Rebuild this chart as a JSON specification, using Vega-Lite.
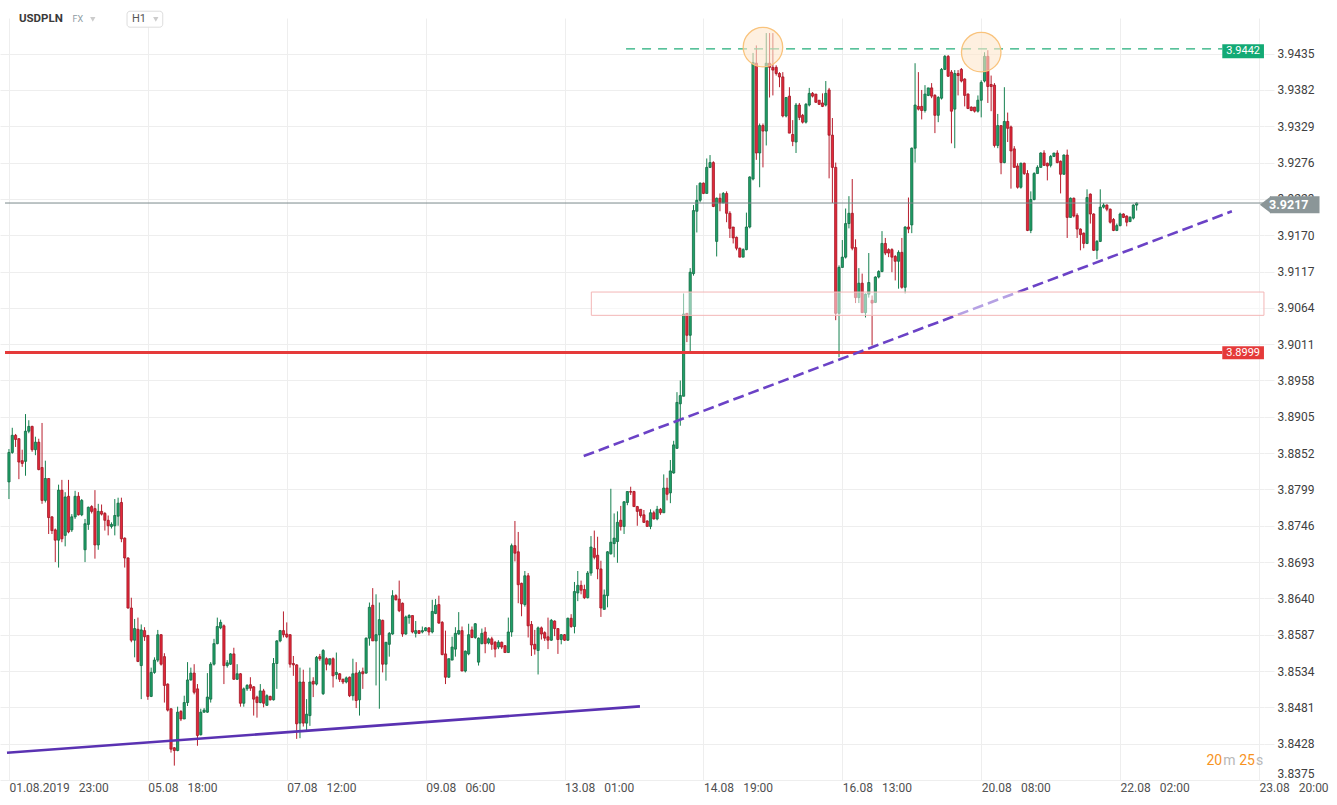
{
"$schema":"https://vega.github.io/schema/vega-lite/v6.json",
"width":1264,"height":762,
"autosize":{"type":"none"},
"padding":{"left":0,"top":18,"right":73,"bottom":25},
"background":"white",
"config":{"view":{"stroke":null},"font":"Roboto","axis":{"labelFont":"Roboto","titleFont":"Roboto"}},
"datasets":{"c":[
{"i":0,"o":3.8810,"h":3.8858,"l":3.8785,"c":3.8853},
{"i":1,"o":3.8853,"h":3.8889,"l":3.8851,"c":3.8878},
{"i":2,"o":3.8878,"h":3.8880,"l":3.8861,"c":3.8872},
{"i":3,"o":3.8873,"h":3.8874,"l":3.8814,"c":3.8839},
{"i":4,"o":3.8841,"h":3.8857,"l":3.8832,"c":3.8837},
{"i":5,"o":3.8840,"h":3.8909,"l":3.8819,"c":3.8884},
{"i":6,"o":3.8884,"h":3.8900,"l":3.8881,"c":3.8891},
{"i":7,"o":3.8891,"h":3.8892,"l":3.8854,"c":3.8857},
{"i":8,"o":3.8857,"h":3.8876,"l":3.8849,"c":3.8868},
{"i":9,"o":3.8868,"h":3.8873,"l":3.8827,"c":3.8828},
{"i":10,"o":3.8831,"h":3.8896,"l":3.8778,"c":3.8783},
{"i":11,"o":3.8783,"h":3.8841,"l":3.8780,"c":3.8815},
{"i":12,"o":3.8815,"h":3.8815,"l":3.8734,"c":3.8758},
{"i":13,"o":3.8759,"h":3.8760,"l":3.8734,"c":3.8739},
{"i":14,"o":3.8740,"h":3.8742,"l":3.8693,"c":3.8725},
{"i":15,"o":3.8725,"h":3.8806,"l":3.8685,"c":3.8798},
{"i":16,"o":3.8798,"h":3.8813,"l":3.8722,"c":3.8727},
{"i":17,"o":3.8732,"h":3.8795,"l":3.8716,"c":3.8788},
{"i":18,"o":3.8789,"h":3.8813,"l":3.8735,"c":3.8737},
{"i":19,"o":3.8740,"h":3.8763,"l":3.8737,"c":3.8759},
{"i":20,"o":3.8759,"h":3.8797,"l":3.8756,"c":3.8789},
{"i":21,"o":3.8789,"h":3.8795,"l":3.8761,"c":3.8762},
{"i":22,"o":3.8762,"h":3.8785,"l":3.8760,"c":3.8783},
{"i":23,"o":3.8711,"h":3.8756,"l":3.8693,"c":3.8749},
{"i":24,"o":3.8748,"h":3.8774,"l":3.8740,"c":3.8773},
{"i":25,"o":3.8774,"h":3.8776,"l":3.8764,"c":3.8767},
{"i":26,"o":3.8771,"h":3.8798,"l":3.8698,"c":3.8718},
{"i":27,"o":3.8718,"h":3.8778,"l":3.8711,"c":3.8767},
{"i":28,"o":3.8767,"h":3.8777,"l":3.8761,"c":3.8763},
{"i":29,"o":3.8764,"h":3.8766,"l":3.8739,"c":3.8754},
{"i":30,"o":3.8754,"h":3.8761,"l":3.8732,"c":3.8746},
{"i":31,"o":3.8745,"h":3.8751,"l":3.8742,"c":3.8748},
{"i":32,"o":3.8746,"h":3.8785,"l":3.8732,"c":3.8761},
{"i":33,"o":3.8760,"h":3.8787,"l":3.8746,"c":3.8779},
{"i":34,"o":3.8780,"h":3.8787,"l":3.8722,"c":3.8727},
{"i":35,"o":3.8728,"h":3.8729,"l":3.8685,"c":3.8699},
{"i":36,"o":3.8699,"h":3.8700,"l":3.8625,"c":3.8626},
{"i":37,"o":3.8626,"h":3.8641,"l":3.8576,"c":3.8579},
{"i":38,"o":3.8579,"h":3.8610,"l":3.8554,"c":3.8596},
{"i":39,"o":3.8595,"h":3.8612,"l":3.8547,"c":3.8548},
{"i":40,"o":3.8542,"h":3.8602,"l":3.8493,"c":3.8594},
{"i":41,"o":3.8593,"h":3.8598,"l":3.8578,"c":3.8584},
{"i":42,"o":3.8586,"h":3.8586,"l":3.8492,"c":3.8497},
{"i":43,"o":3.8497,"h":3.8539,"l":3.8496,"c":3.8532},
{"i":44,"o":3.8532,"h":3.8554,"l":3.8530,"c":3.8550},
{"i":45,"o":3.8550,"h":3.8594,"l":3.8547,"c":3.8587},
{"i":46,"o":3.8587,"h":3.8588,"l":3.8542,"c":3.8544},
{"i":47,"o":3.8555,"h":3.8560,"l":3.8488,"c":3.8513},
{"i":48,"o":3.8515,"h":3.8516,"l":3.8475,"c":3.8477},
{"i":49,"o":3.8479,"h":3.8479,"l":3.8415,"c":3.8420},
{"i":50,"o":3.8422,"h":3.8423,"l":3.8396,"c":3.8418},
{"i":51,"o":3.8418,"h":3.8482,"l":3.8417,"c":3.8474},
{"i":52,"o":3.8475,"h":3.8477,"l":3.8461,"c":3.8464},
{"i":53,"o":3.8464,"h":3.8498,"l":3.8464,"c":3.8488},
{"i":54,"o":3.8488,"h":3.8547,"l":3.8483,"c":3.8521},
{"i":55,"o":3.8521,"h":3.8539,"l":3.8520,"c":3.8531},
{"i":56,"o":3.8531,"h":3.8544,"l":3.8500,"c":3.8503},
{"i":57,"o":3.8508,"h":3.8515,"l":3.8425,"c":3.8440},
{"i":58,"o":3.8441,"h":3.8479,"l":3.8440,"c":3.8474},
{"i":59,"o":3.8474,"h":3.8480,"l":3.8473,"c":3.8477},
{"i":60,"o":3.8474,"h":3.8531,"l":3.8473,"c":3.8496},
{"i":61,"o":3.8493,"h":3.8547,"l":3.8488,"c":3.8544},
{"i":62,"o":3.8544,"h":3.8581,"l":3.8542,"c":3.8574},
{"i":63,"o":3.8574,"h":3.8612,"l":3.8573,"c":3.8599},
{"i":64,"o":3.8597,"h":3.8609,"l":3.8595,"c":3.8605},
{"i":65,"o":3.8600,"h":3.8602,"l":3.8515,"c":3.8542},
{"i":66,"o":3.8542,"h":3.8550,"l":3.8539,"c":3.8546},
{"i":67,"o":3.8544,"h":3.8560,"l":3.8543,"c":3.8559},
{"i":68,"o":3.8559,"h":3.8568,"l":3.8521,"c":3.8522},
{"i":69,"o":3.8522,"h":3.8544,"l":3.8521,"c":3.8530},
{"i":70,"o":3.8530,"h":3.8531,"l":3.8482,"c":3.8487},
{"i":71,"o":3.8487,"h":3.8510,"l":3.8482,"c":3.8508},
{"i":72,"o":3.8508,"h":3.8515,"l":3.8505,"c":3.8513},
{"i":73,"o":3.8514,"h":3.8525,"l":3.8505,"c":3.8509},
{"i":74,"o":3.8511,"h":3.8512,"l":3.8469,"c":3.8493},
{"i":75,"o":3.8496,"h":3.8498,"l":3.8466,"c":3.8488},
{"i":76,"o":3.8488,"h":3.8515,"l":3.8487,"c":3.8505},
{"i":77,"o":3.8505,"h":3.8508,"l":3.8481,"c":3.8487},
{"i":78,"o":3.8484,"h":3.8500,"l":3.8483,"c":3.8498},
{"i":79,"o":3.8497,"h":3.8498,"l":3.8491,"c":3.8492},
{"i":80,"o":3.8492,"h":3.8553,"l":3.8491,"c":3.8545},
{"i":81,"o":3.8545,"h":3.8579,"l":3.8508,"c":3.8578},
{"i":82,"o":3.8578,"h":3.8594,"l":3.8576,"c":3.8593},
{"i":83,"o":3.8593,"h":3.8621,"l":3.8583,"c":3.8587},
{"i":84,"o":3.8588,"h":3.8605,"l":3.8582,"c":3.8584},
{"i":85,"o":3.8587,"h":3.8588,"l":3.8539,"c":3.8544},
{"i":86,"o":3.8545,"h":3.8556,"l":3.8527,"c":3.8543},
{"i":87,"o":3.8543,"h":3.8544,"l":3.8435,"c":3.8457},
{"i":88,"o":3.8458,"h":3.8539,"l":3.8436,"c":3.8518},
{"i":89,"o":3.8518,"h":3.8536,"l":3.8453,"c":3.8458},
{"i":90,"o":3.8458,"h":3.8493,"l":3.8447,"c":3.8471},
{"i":91,"o":3.8469,"h":3.8539,"l":3.8454,"c":3.8518},
{"i":92,"o":3.8519,"h":3.8525,"l":3.8496,"c":3.8515},
{"i":93,"o":3.8515,"h":3.8556,"l":3.8513,"c":3.8554},
{"i":94,"o":3.8555,"h":3.8559,"l":3.8549,"c":3.8552},
{"i":95,"o":3.8501,"h":3.8566,"l":3.8499,"c":3.8564},
{"i":96,"o":3.8552,"h":3.8554,"l":3.8535,"c":3.8544},
{"i":97,"o":3.8544,"h":3.8552,"l":3.8542,"c":3.8552},
{"i":98,"o":3.8552,"h":3.8554,"l":3.8510,"c":3.8527},
{"i":99,"o":3.8529,"h":3.8561,"l":3.8522,"c":3.8532},
{"i":100,"o":3.8530,"h":3.8531,"l":3.8518,"c":3.8522},
{"i":101,"o":3.8522,"h":3.8523,"l":3.8515,"c":3.8518},
{"i":102,"o":3.8518,"h":3.8526,"l":3.8516,"c":3.8524},
{"i":103,"o":3.8525,"h":3.8526,"l":3.8496,"c":3.8498},
{"i":104,"o":3.8498,"h":3.8552,"l":3.8491,"c":3.8530},
{"i":105,"o":3.8531,"h":3.8547,"l":3.8480,"c":3.8491},
{"i":106,"o":3.8492,"h":3.8535,"l":3.8469,"c":3.8532},
{"i":107,"o":3.8533,"h":3.8539,"l":3.8508,"c":3.8530},
{"i":108,"o":3.8531,"h":3.8583,"l":3.8530,"c":3.8582},
{"i":109,"o":3.8582,"h":3.8634,"l":3.8571,"c":3.8627},
{"i":110,"o":3.8630,"h":3.8655,"l":3.8578,"c":3.8578},
{"i":111,"o":3.8578,"h":3.8646,"l":3.8513,"c":3.8587},
{"i":112,"o":3.8587,"h":3.8634,"l":3.8479,"c":3.8609},
{"i":113,"o":3.8608,"h":3.8609,"l":3.8532,"c":3.8544},
{"i":114,"o":3.8544,"h":3.8576,"l":3.8520,"c":3.8576},
{"i":115,"o":3.8573,"h":3.8591,"l":3.8555,"c":3.8589},
{"i":116,"o":3.8588,"h":3.8652,"l":3.8587,"c":3.8644},
{"i":117,"o":3.8644,"h":3.8646,"l":3.8637,"c":3.8638},
{"i":118,"o":3.8639,"h":3.8666,"l":3.8620,"c":3.8622},
{"i":119,"o":3.8633,"h":3.8634,"l":3.8584,"c":3.8588},
{"i":120,"o":3.8588,"h":3.8615,"l":3.8587,"c":3.8613},
{"i":121,"o":3.8612,"h":3.8617,"l":3.8603,"c":3.8615},
{"i":122,"o":3.8615,"h":3.8615,"l":3.8589,"c":3.8591},
{"i":123,"o":3.8589,"h":3.8607,"l":3.8583,"c":3.8593},
{"i":124,"o":3.8593,"h":3.8593,"l":3.8588,"c":3.8589},
{"i":125,"o":3.8591,"h":3.8599,"l":3.8589,"c":3.8593},
{"i":126,"o":3.8593,"h":3.8598,"l":3.8592,"c":3.8597},
{"i":127,"o":3.8597,"h":3.8598,"l":3.8586,"c":3.8591},
{"i":128,"o":3.8591,"h":3.8638,"l":3.8589,"c":3.8621},
{"i":129,"o":3.8618,"h":3.8639,"l":3.8617,"c":3.8630},
{"i":130,"o":3.8631,"h":3.8644,"l":3.8603,"c":3.8604},
{"i":131,"o":3.8605,"h":3.8607,"l":3.8557,"c":3.8558},
{"i":132,"o":3.8559,"h":3.8593,"l":3.8515,"c":3.8525},
{"i":133,"o":3.8525,"h":3.8552,"l":3.8524,"c":3.8552},
{"i":134,"o":3.8550,"h":3.8584,"l":3.8550,"c":3.8569},
{"i":135,"o":3.8566,"h":3.8598,"l":3.8555,"c":3.8589},
{"i":136,"o":3.8588,"h":3.8620,"l":3.8587,"c":3.8593},
{"i":137,"o":3.8593,"h":3.8599,"l":3.8534,"c":3.8534},
{"i":138,"o":3.8534,"h":3.8564,"l":3.8532,"c":3.8563},
{"i":139,"o":3.8559,"h":3.8603,"l":3.8557,"c":3.8587},
{"i":140,"o":3.8594,"h":3.8599,"l":3.8582,"c":3.8583},
{"i":141,"o":3.8583,"h":3.8604,"l":3.8581,"c":3.8603},
{"i":142,"o":3.8547,"h":3.8583,"l":3.8542,"c":3.8582},
{"i":143,"o":3.8574,"h":3.8596,"l":3.8573,"c":3.8589},
{"i":144,"o":3.8591,"h":3.8598,"l":3.8560,"c":3.8574},
{"i":145,"o":3.8575,"h":3.8583,"l":3.8573,"c":3.8581},
{"i":146,"o":3.8581,"h":3.8584,"l":3.8565,"c":3.8573},
{"i":147,"o":3.8576,"h":3.8578,"l":3.8554,"c":3.8566},
{"i":148,"o":3.8569,"h":3.8579,"l":3.8566,"c":3.8576},
{"i":149,"o":3.8576,"h":3.8577,"l":3.8566,"c":3.8569},
{"i":150,"o":3.8571,"h":3.8572,"l":3.8561,"c":3.8561},
{"i":151,"o":3.8561,"h":3.8612,"l":3.8561,"c":3.8591},
{"i":152,"o":3.8591,"h":3.8720,"l":3.8584,"c":3.8717},
{"i":153,"o":3.8717,"h":3.8753,"l":3.8694,"c":3.8706},
{"i":154,"o":3.8708,"h":3.8737,"l":3.8633,"c":3.8660},
{"i":155,"o":3.8662,"h":3.8663,"l":3.8614,"c":3.8632},
{"i":156,"o":3.8631,"h":3.8680,"l":3.8628,"c":3.8673},
{"i":157,"o":3.8673,"h":3.8677,"l":3.8583,"c":3.8600},
{"i":158,"o":3.8602,"h":3.8607,"l":3.8556,"c":3.8572},
{"i":159,"o":3.8573,"h":3.8594,"l":3.8558,"c":3.8566},
{"i":160,"o":3.8564,"h":3.8599,"l":3.8529,"c":3.8597},
{"i":161,"o":3.8597,"h":3.8599,"l":3.8580,"c":3.8588},
{"i":162,"o":3.8590,"h":3.8592,"l":3.8578,"c":3.8582},
{"i":163,"o":3.8584,"h":3.8612,"l":3.8566,"c":3.8579},
{"i":164,"o":3.8579,"h":3.8610,"l":3.8578,"c":3.8608},
{"i":165,"o":3.8607,"h":3.8608,"l":3.8585,"c":3.8596},
{"i":166,"o":3.8596,"h":3.8596,"l":3.8559,"c":3.8580},
{"i":167,"o":3.8580,"h":3.8588,"l":3.8573,"c":3.8587},
{"i":168,"o":3.8587,"h":3.8588,"l":3.8578,"c":3.8579},
{"i":169,"o":3.8579,"h":3.8612,"l":3.8578,"c":3.8611},
{"i":170,"o":3.8611,"h":3.8617,"l":3.8597,"c":3.8599},
{"i":171,"o":3.8599,"h":3.8664,"l":3.8589,"c":3.8650},
{"i":172,"o":3.8648,"h":3.8680,"l":3.8636,"c":3.8659},
{"i":173,"o":3.8659,"h":3.8666,"l":3.8646,"c":3.8652},
{"i":174,"o":3.8653,"h":3.8660,"l":3.8639,"c":3.8641},
{"i":175,"o":3.8641,"h":3.8680,"l":3.8640,"c":3.8677},
{"i":176,"o":3.8677,"h":3.8731,"l":3.8673,"c":3.8715},
{"i":177,"o":3.8713,"h":3.8739,"l":3.8697,"c":3.8700},
{"i":178,"o":3.8703,"h":3.8730,"l":3.8668,"c":3.8683},
{"i":179,"o":3.8683,"h":3.8695,"l":3.8613,"c":3.8626},
{"i":180,"o":3.8624,"h":3.8653,"l":3.8624,"c":3.8645},
{"i":181,"o":3.8644,"h":3.8709,"l":3.8627,"c":3.8708},
{"i":182,"o":3.8705,"h":3.8800,"l":3.8704,"c":3.8722},
{"i":183,"o":3.8720,"h":3.8764,"l":3.8700,"c":3.8728},
{"i":184,"o":3.8723,"h":3.8767,"l":3.8692,"c":3.8751},
{"i":185,"o":3.8754,"h":3.8775,"l":3.8739,"c":3.8745},
{"i":186,"o":3.8745,"h":3.8782,"l":3.8734,"c":3.8781},
{"i":187,"o":3.8780,"h":3.8796,"l":3.8776,"c":3.8796},
{"i":188,"o":3.8796,"h":3.8803,"l":3.8791,"c":3.8795},
{"i":189,"o":3.8796,"h":3.8797,"l":3.8774,"c":3.8774},
{"i":190,"o":3.8774,"h":3.8775,"l":3.8746,"c":3.8767},
{"i":191,"o":3.8770,"h":3.8770,"l":3.8758,"c":3.8761},
{"i":192,"o":3.8762,"h":3.8769,"l":3.8750,"c":3.8751},
{"i":193,"o":3.8753,"h":3.8754,"l":3.8745,"c":3.8745},
{"i":194,"o":3.8745,"h":3.8770,"l":3.8741,"c":3.8765},
{"i":195,"o":3.8765,"h":3.8768,"l":3.8755,"c":3.8756},
{"i":196,"o":3.8756,"h":3.8775,"l":3.8754,"c":3.8770},
{"i":197,"o":3.8770,"h":3.8772,"l":3.8762,"c":3.8765},
{"i":198,"o":3.8765,"h":3.8821,"l":3.8765,"c":3.8801},
{"i":199,"o":3.8801,"h":3.8816,"l":3.8783,"c":3.8792},
{"i":200,"o":3.8794,"h":3.8842,"l":3.8779,"c":3.8826},
{"i":201,"o":3.8823,"h":3.8870,"l":3.8822,"c":3.8864},
{"i":202,"o":3.8859,"h":3.8941,"l":3.8858,"c":3.8926},
{"i":203,"o":3.8924,"h":3.8958,"l":3.8892,"c":3.8936},
{"i":204,"o":3.8935,"h":3.9085,"l":3.8935,"c":3.9055},
{"i":205,"o":3.9056,"h":3.9056,"l":3.9014,"c":3.9024},
{"i":206,"o":3.9024,"h":3.9122,"l":3.8999,"c":3.9116},
{"i":207,"o":3.9114,"h":3.9214,"l":3.9111,"c":3.9206},
{"i":208,"o":3.9205,"h":3.9243,"l":3.9174,"c":3.9221},
{"i":209,"o":3.9221,"h":3.9247,"l":3.9218,"c":3.9246},
{"i":210,"o":3.9246,"h":3.9247,"l":3.9230,"c":3.9231},
{"i":211,"o":3.9231,"h":3.9282,"l":3.9231,"c":3.9269},
{"i":212,"o":3.9269,"h":3.9287,"l":3.9268,"c":3.9276},
{"i":213,"o":3.9276,"h":3.9278,"l":3.9211,"c":3.9212},
{"i":214,"o":3.9161,"h":3.9225,"l":3.9139,"c":3.9224},
{"i":215,"o":3.9224,"h":3.9231,"l":3.9205,"c":3.9217},
{"i":216,"o":3.9217,"h":3.9233,"l":3.9217,"c":3.9231},
{"i":217,"o":3.9231,"h":3.9234,"l":3.9189,"c":3.9202},
{"i":218,"o":3.9202,"h":3.9205,"l":3.9166,"c":3.9180},
{"i":219,"o":3.9182,"h":3.9182,"l":3.9158,"c":3.9166},
{"i":220,"o":3.9167,"h":3.9168,"l":3.9148,"c":3.9151},
{"i":221,"o":3.9151,"h":3.9152,"l":3.9138,"c":3.9138},
{"i":222,"o":3.9138,"h":3.9151,"l":3.9138,"c":3.9149},
{"i":223,"o":3.9149,"h":3.9203,"l":3.9148,"c":3.9182},
{"i":224,"o":3.9182,"h":3.9256,"l":3.9180,"c":3.9255},
{"i":225,"o":3.9252,"h":3.9436,"l":3.9250,"c":3.9422},
{"i":226,"o":3.9421,"h":3.9447,"l":3.9280,"c":3.9290},
{"i":227,"o":3.9290,"h":3.9333,"l":3.9240,"c":3.9330},
{"i":228,"o":3.9330,"h":3.9333,"l":3.9269,"c":3.9322},
{"i":229,"o":3.9322,"h":3.9465,"l":3.9301,"c":3.9421},
{"i":230,"o":3.9421,"h":3.9465,"l":3.9371,"c":3.9415},
{"i":231,"o":3.9415,"h":3.9465,"l":3.9374,"c":3.9411},
{"i":232,"o":3.9415,"h":3.9418,"l":3.9403,"c":3.9406},
{"i":233,"o":3.9406,"h":3.9408,"l":3.9386,"c":3.9401},
{"i":234,"o":3.9401,"h":3.9408,"l":3.9342,"c":3.9344},
{"i":235,"o":3.9344,"h":3.9371,"l":3.9342,"c":3.9371},
{"i":236,"o":3.9373,"h":3.9386,"l":3.9319,"c":3.9319},
{"i":237,"o":3.9317,"h":3.9338,"l":3.9300,"c":3.9307},
{"i":238,"o":3.9306,"h":3.9363,"l":3.9290,"c":3.9360},
{"i":239,"o":3.9360,"h":3.9363,"l":3.9338,"c":3.9342},
{"i":240,"o":3.9345,"h":3.9347,"l":3.9333,"c":3.9335},
{"i":241,"o":3.9335,"h":3.9363,"l":3.9333,"c":3.9361},
{"i":242,"o":3.9360,"h":3.9385,"l":3.9358,"c":3.9377},
{"i":243,"o":3.9377,"h":3.9379,"l":3.9371,"c":3.9373},
{"i":244,"o":3.9376,"h":3.9376,"l":3.9363,"c":3.9364},
{"i":245,"o":3.9367,"h":3.9367,"l":3.9360,"c":3.9361},
{"i":246,"o":3.9363,"h":3.9377,"l":3.9357,"c":3.9358},
{"i":247,"o":3.9360,"h":3.9395,"l":3.9358,"c":3.9377},
{"i":248,"o":3.9382,"h":3.9385,"l":3.9253,"c":3.9316},
{"i":249,"o":3.9316,"h":3.9341,"l":3.9217,"c":3.9269},
{"i":250,"o":3.9269,"h":3.9276,"l":3.9046,"c":3.9056},
{"i":251,"o":3.9056,"h":3.9126,"l":3.8992,"c":3.9123},
{"i":252,"o":3.9123,"h":3.9163,"l":3.9123,"c":3.9138},
{"i":253,"o":3.9138,"h":3.9209,"l":3.9136,"c":3.9187},
{"i":254,"o":3.9187,"h":3.9227,"l":3.9180,"c":3.9202},
{"i":255,"o":3.9202,"h":3.9252,"l":3.9148,"c":3.9151},
{"i":256,"o":3.9152,"h":3.9164,"l":3.9071,"c":3.9079},
{"i":257,"o":3.9079,"h":3.9122,"l":3.9071,"c":3.9100},
{"i":258,"o":3.9100,"h":3.9114,"l":3.9057,"c":3.9057},
{"i":259,"o":3.9057,"h":3.9085,"l":3.9050,"c":3.9084},
{"i":260,"o":3.9084,"h":3.9144,"l":3.9079,"c":3.9101},
{"i":261,"o":3.9075,"h":3.9082,"l":3.9009,"c":3.9071},
{"i":262,"o":3.9072,"h":3.9110,"l":3.9071,"c":3.9109},
{"i":263,"o":3.9109,"h":3.9119,"l":3.9107,"c":3.9117},
{"i":264,"o":3.9117,"h":3.9176,"l":3.9116,"c":3.9158},
{"i":265,"o":3.9158,"h":3.9166,"l":3.9141,"c":3.9144},
{"i":266,"o":3.9149,"h":3.9151,"l":3.9138,"c":3.9144},
{"i":267,"o":3.9149,"h":3.9151,"l":3.9116,"c":3.9138},
{"i":268,"o":3.9139,"h":3.9141,"l":3.9104,"c":3.9132},
{"i":269,"o":3.9132,"h":3.9148,"l":3.9092,"c":3.9145},
{"i":270,"o":3.9145,"h":3.9166,"l":3.9092,"c":3.9094},
{"i":271,"o":3.9094,"h":3.9183,"l":3.9085,"c":3.9182},
{"i":272,"o":3.9182,"h":3.9225,"l":3.9173,"c":3.9179},
{"i":273,"o":3.9185,"h":3.9298,"l":3.9173,"c":3.9297},
{"i":274,"o":3.9297,"h":3.9421,"l":3.9276,"c":3.9360},
{"i":275,"o":3.9358,"h":3.9408,"l":3.9352,"c":3.9354},
{"i":276,"o":3.9358,"h":3.9382,"l":3.9339,"c":3.9352},
{"i":277,"o":3.9352,"h":3.9389,"l":3.9349,"c":3.9376},
{"i":278,"o":3.9374,"h":3.9385,"l":3.9373,"c":3.9385},
{"i":279,"o":3.9385,"h":3.9392,"l":3.9370,"c":3.9373},
{"i":280,"o":3.9374,"h":3.9376,"l":3.9319,"c":3.9345},
{"i":281,"o":3.9345,"h":3.9373,"l":3.9335,"c":3.9371},
{"i":282,"o":3.9370,"h":3.9414,"l":3.9368,"c":3.9412},
{"i":283,"o":3.9412,"h":3.9433,"l":3.9411,"c":3.9431},
{"i":284,"o":3.9431,"h":3.9433,"l":3.9401,"c":3.9402},
{"i":285,"o":3.9408,"h":3.9411,"l":3.9304,"c":3.9351},
{"i":286,"o":3.9354,"h":3.9411,"l":3.9297,"c":3.9406},
{"i":287,"o":3.9406,"h":3.9411,"l":3.9374,"c":3.9403},
{"i":288,"o":3.9412,"h":3.9414,"l":3.9393,"c":3.9395},
{"i":289,"o":3.9398,"h":3.9399,"l":3.9358,"c":3.9374},
{"i":290,"o":3.9376,"h":3.9377,"l":3.9354,"c":3.9355},
{"i":291,"o":3.9357,"h":3.9358,"l":3.9351,"c":3.9352},
{"i":292,"o":3.9357,"h":3.9357,"l":3.9349,"c":3.9351},
{"i":293,"o":3.9351,"h":3.9374,"l":3.9349,"c":3.9367},
{"i":294,"o":3.9367,"h":3.9396,"l":3.9342,"c":3.9393},
{"i":295,"o":3.9395,"h":3.9437,"l":3.9393,"c":3.9431},
{"i":296,"o":3.9431,"h":3.9440,"l":3.9363,"c":3.9387},
{"i":297,"o":3.9390,"h":3.9403,"l":3.9351,"c":3.9387},
{"i":298,"o":3.9389,"h":3.9392,"l":3.9298,"c":3.9301},
{"i":299,"o":3.9301,"h":3.9347,"l":3.9297,"c":3.9330},
{"i":300,"o":3.9330,"h":3.9330,"l":3.9259,"c":3.9276},
{"i":301,"o":3.9276,"h":3.9386,"l":3.9275,"c":3.9336},
{"i":302,"o":3.9336,"h":3.9349,"l":3.9306,"c":3.9326},
{"i":303,"o":3.9328,"h":3.9330,"l":3.9238,"c":3.9293},
{"i":304,"o":3.9296,"h":3.9300,"l":3.9269,"c":3.9269},
{"i":305,"o":3.9271,"h":3.9275,"l":3.9238,"c":3.9240},
{"i":306,"o":3.9240,"h":3.9276,"l":3.9238,"c":3.9275},
{"i":307,"o":3.9275,"h":3.9276,"l":3.9258,"c":3.9260},
{"i":308,"o":3.9260,"h":3.9265,"l":3.9176,"c":3.9177},
{"i":309,"o":3.9177,"h":3.9234,"l":3.9173,"c":3.9222},
{"i":310,"o":3.9222,"h":3.9262,"l":3.9221,"c":3.9260},
{"i":311,"o":3.9260,"h":3.9272,"l":3.9260,"c":3.9269},
{"i":312,"o":3.9269,"h":3.9291,"l":3.9269,"c":3.9290},
{"i":313,"o":3.9290,"h":3.9294,"l":3.9271,"c":3.9272},
{"i":314,"o":3.9275,"h":3.9276,"l":3.9250,"c":3.9271},
{"i":315,"o":3.9272,"h":3.9287,"l":3.9269,"c":3.9285},
{"i":316,"o":3.9285,"h":3.9290,"l":3.9284,"c":3.9290},
{"i":317,"o":3.9290,"h":3.9294,"l":3.9275,"c":3.9276},
{"i":318,"o":3.9278,"h":3.9279,"l":3.9231,"c":3.9259},
{"i":319,"o":3.9259,"h":3.9288,"l":3.9258,"c":3.9287},
{"i":320,"o":3.9287,"h":3.9295,"l":3.9166,"c":3.9196},
{"i":321,"o":3.9196,"h":3.9225,"l":3.9196,"c":3.9224},
{"i":322,"o":3.9224,"h":3.9225,"l":3.9196,"c":3.9198},
{"i":323,"o":3.9199,"h":3.9202,"l":3.9166,"c":3.9179},
{"i":324,"o":3.9179,"h":3.9180,"l":3.9148,"c":3.9171},
{"i":325,"o":3.9173,"h":3.9174,"l":3.9151,"c":3.9158},
{"i":326,"o":3.9158,"h":3.9237,"l":3.9157,"c":3.9225},
{"i":327,"o":3.9230,"h":3.9231,"l":3.9187,"c":3.9201},
{"i":328,"o":3.9201,"h":3.9202,"l":3.9147,"c":3.9148},
{"i":329,"o":3.9148,"h":3.9163,"l":3.9135,"c":3.9161},
{"i":330,"o":3.9161,"h":3.9237,"l":3.9160,"c":3.9211},
{"i":331,"o":3.9211,"h":3.9217,"l":3.9209,"c":3.9214},
{"i":332,"o":3.9214,"h":3.9215,"l":3.9205,"c":3.9208},
{"i":333,"o":3.9208,"h":3.9209,"l":3.9187,"c":3.9189},
{"i":334,"o":3.9193,"h":3.9195,"l":3.9176,"c":3.9177},
{"i":335,"o":3.9177,"h":3.9187,"l":3.9176,"c":3.9184},
{"i":336,"o":3.9184,"h":3.9203,"l":3.9183,"c":3.9201},
{"i":337,"o":3.9201,"h":3.9202,"l":3.9195,"c":3.9196},
{"i":338,"o":3.9198,"h":3.9199,"l":3.9183,"c":3.9189},
{"i":339,"o":3.9190,"h":3.9198,"l":3.9189,"c":3.9196},
{"i":340,"o":3.9195,"h":3.9215,"l":3.9193,"c":3.9214},
{"i":341,"o":3.9214,"h":3.9218,"l":3.9206,"c":3.9217}
]},
"layer":[
{"data":{"name":"c"},
 "mark":{"type":"rule","strokeWidth":1},
 "encoding":{
  "x":{"field":"i","type":"quantitative","scale":{"domain":[-1.2,378],"nice":false,"zero":false},
   "axis":{"title":null,"values":[0,42,84,126,168,210,252,294,336,378],"tickCount":50,"grid":true,"gridColor":"#eeeeee","gridWidth":1,"domain":false,"ticks":false,"labelAlign":"left","labelFlush":false,"labelOverlap":false,"labelBound":false,"labelPadding":2,"labelFontSize":12,"labelColor":"#505050","zindex":0,
   "labelExpr":"['01.08.2019\u2002\u00a023:00','05.08\u2002\u00a018:00','07.08\u2002\u00a012:00','09.08\u2002\u00a006:00','13.08\u2002\u00a001:00','14.08\u2002\u00a019:00','16.08\u2002\u00a013:00','20.08\u2002\u00a008:00','22.08\u2002\u00a002:00','23.08\u2002\u00a020:00'][round(datum.value/42)]"}},
  "y":{"field":"l","type":"quantitative","scale":{"domain":[3.8375,3.9487],"nice":false,"zero":false},
   "axis":{"title":null,"orient":"right","values":[3.9435,3.9382,3.9329,3.9276,3.9223,3.917,3.9117,3.9064,3.9011,3.8958,3.8905,3.8852,3.8799,3.8746,3.8693,3.864,3.8587,3.8534,3.8481,3.8428,3.8375],"tickCount":60,"format":".4f","grid":true,"gridColor":"#eeeeee","gridWidth":1,"domain":false,"tickSize":10,"tickColor":"#eeeeee","labelPadding":3,"labelFontSize":12,"labelColor":"#404040","labelFlush":true,"labelOverlap":false,"zindex":0}},
  "y2":{"field":"h"},
  "stroke":{"condition":{"test":"datum.c >= datum.o","value":"#15804f"},"value":"#b81f2e"}
 }},
{"data":{"name":"c"},
 "mark":{"type":"bar","width":2.2,"strokeWidth":0.8},
 "encoding":{
  "x":{"field":"i","type":"quantitative","axis":{"title":null}},
  "y":{"field":"o","type":"quantitative","axis":{"title":null}},
  "y2":{"field":"c"},
  "fill":{"condition":{"test":"datum.c >= datum.o","value":"#1fa068"},"value":"#e3283a"},
  "stroke":{"condition":{"test":"datum.c >= datum.o","value":"#116b42"},"value":"#a11725"}
 }},
{"data":{"values":[{}]},"mark":{"type":"rule","stroke":"#e53a3a","strokeWidth":3},
 "encoding":{"x":{"datum":-1.2,"type":"quantitative"},"x2":{"datum":366.9},"y":{"datum":3.8999,"type":"quantitative"}}},
{"data":{"values":[{}]},"mark":{"type":"rule","stroke":"#7a8a8b","strokeWidth":1},
 "encoding":{"x":{"datum":-1.2,"type":"quantitative"},"x2":{"datum":379.8},"y":{"datum":3.9217,"type":"quantitative"}}},
{"data":{"values":[{}]},"mark":{"type":"rule","stroke":"#5a32b2","strokeWidth":2.6},
 "encoding":{"x":{"datum":-0.6,"type":"quantitative"},"x2":{"datum":190.8},"y":{"datum":3.84148,"type":"quantitative"},"y2":{"datum":3.84825}}},
{"data":{"values":[{}]},"mark":{"type":"rule","stroke":"#6b42c6","strokeWidth":2.6,"strokeDash":[11,5]},
 "encoding":{"x":{"datum":173.8,"type":"quantitative"},"x2":{"datum":369.8},"y":{"datum":3.88477,"type":"quantitative"},"y2":{"datum":3.92049}}},
{"data":{"values":[{}]},"mark":{"type":"rule","stroke":"#22ad7a","strokeWidth":1.3,"strokeDash":[9,7]},
 "encoding":{"x":{"datum":186.6,"type":"quantitative"},"x2":{"datum":366.9},"y":{"datum":3.9442,"type":"quantitative"}}},
{"data":{"values":[{}]},"mark":{"type":"rect","fill":"white","fillOpacity":0.5,"stroke":"#f3b6b6","strokeWidth":1},
 "encoding":{"x":{"datum":176.1,"type":"quantitative"},"x2":{"datum":379.5},"y":{"datum":3.90871,"type":"quantitative"},"y2":{"datum":3.90531}}},
{"data":{"values":[{"i":228.0,"p":3.94444},{"i":294.0,"p":3.94371}]},
 "mark":{"type":"point","shape":"circle","size":1560,"filled":true,"fill":"#fde6cc","fillOpacity":0.6,"stroke":"#f9c37c","strokeWidth":1.3,"strokeOpacity":1},
 "encoding":{"x":{"field":"i","type":"quantitative","axis":{"title":null}},"y":{"field":"p","type":"quantitative","axis":{"title":null}}}},
{"data":{"values":[{}]},"mark":{"type":"rect","fill":"#13aa75"},
 "encoding":{"x":{"datum":366.9,"type":"quantitative"},"x2":{"datum":379.5},"y":{"datum":3.94488,"type":"quantitative"},"y2":{"datum":3.94283}}},
{"data":{"values":[{}]},"mark":{"type":"text","color":"white","fontSize":11,"align":"center","baseline":"middle"},
 "encoding":{"x":{"datum":373.2,"type":"quantitative"},"y":{"datum":3.94385,"type":"quantitative"},"text":{"value":"3.9442"}}},
{"data":{"values":[{}]},"mark":{"type":"rect","fill":"#e53a3a"},
 "encoding":{"x":{"datum":366.9,"type":"quantitative"},"x2":{"datum":379.5},"y":{"datum":3.90078,"type":"quantitative"},"y2":{"datum":3.89889}}},
{"data":{"values":[{}]},"mark":{"type":"text","color":"white","fontSize":11,"align":"center","baseline":"middle"},
 "encoding":{"x":{"datum":373.2,"type":"quantitative"},"y":{"datum":3.89984,"type":"quantitative"},"text":{"value":"3.8999"}}},
{"data":{"values":[{}]},"mark":{"type":"rect","fill":"#8b9698"},
 "encoding":{"x":{"datum":381.3,"type":"quantitative"},"x2":{"datum":396.3},"y":{"datum":3.92268,"type":"quantitative"},"y2":{"datum":3.9202}}},
{"data":{"values":[{}]},"mark":{"type":"point","shape":"M0.7,-1L-0.6,0L0.7,1Z","size":289,"filled":true,"fill":"#8b9698","opacity":1,"strokeWidth":0},
 "encoding":{"x":{"datum":379.8,"type":"quantitative"},"y":{"datum":3.92144,"type":"quantitative"}}},
{"data":{"values":[{}]},"mark":{"type":"text","color":"white","fontSize":12.5,"fontWeight":"bold","align":"center","baseline":"middle"},
 "encoding":{"x":{"datum":387.0,"type":"quantitative"},"y":{"datum":3.92144,"type":"quantitative"},"text":{"value":"3.9217"}}},
{"data":{"values":[{}]},"mark":{"type":"rect","fill":"white","stroke":"#dddddd","strokeWidth":1,"cornerRadius":3},
 "encoding":{"x":{"datum":35.7,"type":"quantitative"},"x2":{"datum":46.5},"y":{"datum":3.94969,"type":"quantitative"},"y2":{"datum":3.94736}}},
{"data":{"values":[{}]},"mark":{"type":"text","color":"#3a3a3a","fontSize":11.5,"fontWeight":"bold","align":"left","baseline":"middle"},
 "encoding":{"x":{"datum":3.0,"type":"quantitative"},"y":{"datum":3.9485,"type":"quantitative"},"text":{"value":"USDPLN"}}},
{"data":{"values":[{}]},"mark":{"type":"text","color":"#8d9ba3","fontSize":9,"align":"left","baseline":"middle"},
 "encoding":{"x":{"datum":19.2,"type":"quantitative"},"y":{"datum":3.9485,"type":"quantitative"},"text":{"value":"FX"}}},
{"data":{"values":[{}]},"mark":{"type":"text","color":"#555555","fontSize":11,"align":"left","baseline":"middle"},
 "encoding":{"x":{"datum":37.2,"type":"quantitative"},"y":{"datum":3.9485,"type":"quantitative"},"text":{"value":"H1"}}},
{"data":{"values":[{"i":25.35},{"i":44.4}]},"mark":{"type":"point","shape":"triangle-down","size":28,"filled":true,"fill":"#cccccc","opacity":1},
 "encoding":{"x":{"field":"i","type":"quantitative","axis":{"title":null}},"y":{"datum":3.9485,"type":"quantitative"}}},
{"data":{"values":[{}]},"mark":{"type":"text","color":"#f7931e","fontSize":14,"align":"left","baseline":"middle"},
 "encoding":{"x":{"datum":362.1,"type":"quantitative"},"y":{"datum":3.84034,"type":"quantitative"},"text":{"value":"20"}}},
{"data":{"values":[{}]},"mark":{"type":"text","color":"#b8b8b8","fontSize":14,"align":"left","baseline":"middle"},
 "encoding":{"x":{"datum":367.2,"type":"quantitative"},"y":{"datum":3.84034,"type":"quantitative"},"text":{"value":"m"}}},
{"data":{"values":[{}]},"mark":{"type":"text","color":"#f7931e","fontSize":14,"align":"left","baseline":"middle"},
 "encoding":{"x":{"datum":372.0,"type":"quantitative"},"y":{"datum":3.84034,"type":"quantitative"},"text":{"value":"25"}}},
{"data":{"values":[{}]},"mark":{"type":"text","color":"#b8b8b8","fontSize":14,"align":"left","baseline":"middle"},
 "encoding":{"x":{"datum":377.1,"type":"quantitative"},"y":{"datum":3.84034,"type":"quantitative"},"text":{"value":"s"}}}
]
}
